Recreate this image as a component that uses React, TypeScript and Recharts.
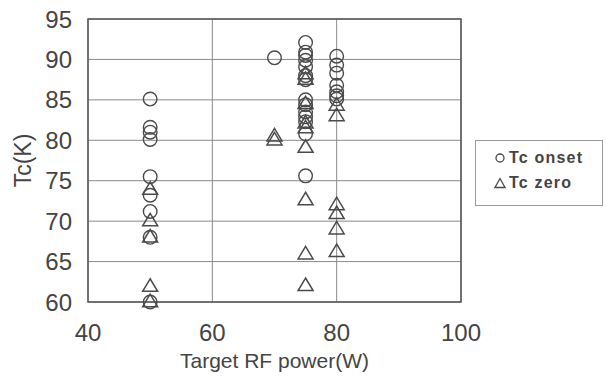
import React from "react";
import {
  ScatterChart,
  Scatter,
  XAxis,
  YAxis,
  CartesianGrid,
  ReferenceArea,
  Label,
} from "recharts";

// RF power settings and measured Tc values (K)
const onsetPower = [
  50, 50, 50, 50, 50, 50, 50, 50, 50,
  70,
  75, 75, 75, 75, 75, 75, 75, 75, 75, 75, 75, 75, 75, 75,
  80, 80, 80, 80, 80, 80, 80,
];
const onsetTc = [
  85.1, 81.6, 81.0, 80.1, 75.5, 73.2, 71.2, 68.0, 60.0,
  90.2,
  92.1, 90.9, 90.5, 89.9, 89.1, 88.0, 87.5, 85.0, 84.4, 83.5, 82.9, 82.3, 80.8, 75.6,
  90.4, 89.3, 88.3, 86.8, 86.0, 85.5, 85.1,
];

const zeroPower = [
  50, 50, 50, 50, 50,
  70, 70,
  75, 75, 75, 75, 75, 75, 75, 75, 75,
  80, 80, 80, 80, 80, 80,
];
const zeroTc = [
  74.0, 70.1, 68.1, 62.0, 60.1,
  80.6, 80.1,
  88.3, 87.6, 84.6, 82.2, 81.6, 79.2, 72.7, 66.0, 62.1,
  84.4, 83.1, 72.1, 71.0, 69.1, 66.3,
];

const xTicks = [40, 60, 80, 100];
const yTicks = [60, 65, 70, 75, 80, 85, 90, 95];

const onsetData = onsetPower.map((p, i) => ({ power: p, tc: onsetTc[i] }));
const zeroData = zeroPower.map((p, i) => ({ power: p, tc: zeroTc[i] }));

const INK = "#4a4a4a";
const FONT = "'Liberation Sans', Arial, sans-serif";

const OpenCircle = (props: any) => {
  const { cx, cy } = props;
  return <circle cx={cx} cy={cy} r={6.8} fill="none" stroke={INK} strokeWidth={1.4} />;
};

const OpenTriangle = (props: any) => {
  const { cx, cy } = props;
  const pts = `${cx},${cy - 7} ${cx - 7.5},${cy + 5.5} ${cx + 7.5},${cy + 5.5}`;
  return <polygon points={pts} fill="none" stroke={INK} strokeWidth={1.5} strokeLinejoin="miter" />;
};

const YTitle = (props: any) => {
  const { viewBox } = props;
  const cx = viewBox.x + 23;
  const cy = viewBox.y + viewBox.height / 2;
  return (
    <text
      x={cx}
      y={cy}
      transform={`rotate(-90, ${cx}, ${cy})`}
      textAnchor="middle"
      dominantBaseline="central"
      fontSize={23}
      fill="#444"
      fontFamily={FONT}
    >
      Tc(K)
    </text>
  );
};

const XTitle = (props: any) => {
  const { viewBox } = props;
  return (
    <text
      x={viewBox.x + viewBox.width / 2}
      y={viewBox.y + 58}
      textAnchor="middle"
      dominantBaseline="central"
      fontSize={21}
      fill="#444"
      fontFamily={FONT}
    >
      Target RF power(W)
    </text>
  );
};

export default function App() {
  return (
    <div style={{ position: "absolute", left: 0, top: 0, width: 606, height: 379, background: "#fff" }}>
      <ScatterChart
        width={606}
        height={379}
        margin={{ top: 19, right: 145, bottom: 0, left: 0 }}
      >
        <CartesianGrid stroke="#8a8a8a" strokeWidth={1} />
        <XAxis
          type="number"
          dataKey="power"
          domain={[40, 100]}
          ticks={xTicks}
          height={77}
          tickSize={0}
          tickMargin={22}
          axisLine={false}
          tick={{ fontSize: 24, fill: "#444", fontFamily: FONT }}
        >
          <Label content={<XTitle />} />
        </XAxis>
        <YAxis
          type="number"
          dataKey="tc"
          domain={[60, 95]}
          ticks={yTicks}
          width={88}
          tickSize={0}
          tickMargin={16}
          axisLine={false}
          tick={{ fontSize: 24, fill: "#444", fontFamily: FONT }}
        >
          <Label content={<YTitle />} />
        </YAxis>
        <ReferenceArea
          x1={40}
          x2={100}
          y1={60}
          y2={95}
          fill="none"
          stroke="#555"
          strokeWidth={1.5}
          ifOverflow="visible"
        />
        <Scatter data={onsetData} shape={<OpenCircle />} isAnimationActive={false} />
        <Scatter data={zeroData} shape={<OpenTriangle />} isAnimationActive={false} />
      </ScatterChart>
      <div
        style={{
          position: "absolute",
          left: 475,
          top: 140,
          width: 128,
          height: 66,
          boxSizing: "border-box",
          border: "1px solid #9a9a9a",
          fontFamily: FONT,
          fontSize: 16,
          fontWeight: "bold",
          letterSpacing: 1.2,
          color: "#444",
        }}
      >
        <div style={{ position: "absolute", left: 18, top: 8, display: "flex", alignItems: "center" }}>
          <svg width={12} height={12} style={{ marginRight: 3 }}>
            <circle cx={6} cy={6} r={4} fill="none" stroke={INK} strokeWidth={1.3} />
          </svg>
          <span>Tc onset</span>
        </div>
        <div style={{ position: "absolute", left: 18, top: 33, display: "flex", alignItems: "center" }}>
          <svg width={12} height={12} style={{ marginRight: 3 }}>
            <polygon points="6,1.5 1,10.5 11,10.5" fill="none" stroke={INK} strokeWidth={1.3} />
          </svg>
          <span>Tc zero</span>
        </div>
      </div>
    </div>
  );
}
